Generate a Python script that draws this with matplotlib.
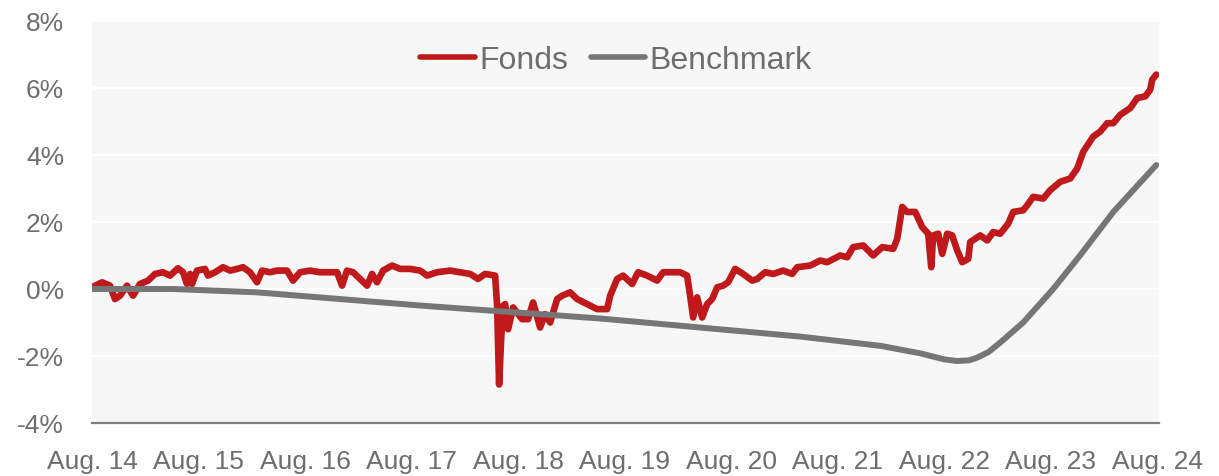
import numpy as np
import matplotlib
matplotlib.use('Agg')
import matplotlib.pyplot as plt
from matplotlib import font_manager

# months since Aug. 2014, performance in %
fonds_m = [0.0, 1.13, 2.03, 2.59, 3.16, 3.94, 4.62, 5.41, 6.31, 7.10, 8.0, 8.79, 9.69,
           10.25, 10.7, 11.04, 11.27, 11.83, 12.73, 13.07, 13.86, 14.76, 15.55, 16.34,
           17.01, 17.8, 18.59, 19.16, 20.06, 20.85, 21.97, 22.65, 23.44, 24.56, 25.69,
           26.82, 27.61, 28.17, 28.73, 29.41, 30.2, 30.99, 31.55, 32.11, 32.79, 33.8,
           34.71, 35.83, 36.96, 37.75, 38.87, 40.34, 41.47, 42.59, 43.49, 44.28, 45.41,
           45.64, 45.86, 46.09, 46.31, 46.54, 46.88, 47.44, 48.45, 49.13, 49.69, 50.48,
           51.04, 51.61, 52.4, 52.96, 53.86, 54.65, 55.78, 56.9, 58.03, 58.37, 59.16,
           59.83, 60.85, 61.52, 62.54, 63.66, 64.34, 65.35, 66.25, 67.04, 67.38, 67.72,
           68.17, 68.73, 69.3, 69.86, 70.43, 71.1, 71.66, 72.45, 73.35, 74.37, 74.93,
           75.83, 76.74, 77.86, 78.88, 79.44, 80.9, 82.03, 82.82, 84.28, 85.07, 85.75,
           86.88, 88.0, 89.02, 90.26, 90.71, 91.27, 91.83, 92.74, 93.52, 94.2, 94.54,
           94.76, 95.33, 95.78, 96.34, 96.9, 97.47, 98.03, 98.71, 98.93, 100.06, 100.85,
           101.52, 102.31, 103.21, 103.78, 104.9, 105.35, 106.03, 107.16, 107.95, 109.07,
           110.2, 110.99, 111.67, 112.79, 113.58, 114.37, 115.05, 115.83, 116.96, 117.75,
           118.65, 119.21, 119.44, 119.89]
fonds_v = [0.05, 0.2, 0.1, -0.3, -0.2, 0.1, -0.2, 0.15, 0.25, 0.45, 0.5, 0.4, 0.62,
           0.5, 0.15, 0.45, 0.15, 0.55, 0.6, 0.4, 0.5, 0.65, 0.55, 0.6,
           0.65, 0.5, 0.2, 0.55, 0.5, 0.55, 0.55, 0.25, 0.5, 0.55, 0.5,
           0.5, 0.5, 0.1, 0.55, 0.5, 0.3, 0.1, 0.45, 0.2, 0.55, 0.7,
           0.6, 0.6, 0.55, 0.4, 0.5, 0.55, 0.5, 0.45, 0.3, 0.45, 0.4,
           -0.5, -2.85, -1.5, -0.5, -0.45, -1.2, -0.55, -0.9, -0.9, -0.4, -1.15,
           -0.75, -1.0, -0.3, -0.2, -0.1, -0.3, -0.45, -0.6, -0.6, -0.2, 0.3,
           0.4, 0.15, 0.5, 0.4, 0.25, 0.5, 0.5, 0.5, 0.4, -0.2, -0.85,
           -0.25, -0.85, -0.45, -0.3, 0.05, 0.1, 0.2, 0.6, 0.45, 0.25, 0.3,
           0.5, 0.45, 0.55, 0.45, 0.65, 0.7, 0.85, 0.8, 1.0, 0.95, 1.25,
           1.3, 1.0, 1.25, 1.2, 1.5, 2.45, 2.3, 2.3, 1.85, 1.65, 0.65,
           1.6, 1.65, 1.05, 1.65, 1.6, 1.15, 0.8, 0.9, 1.4, 1.6, 1.45,
           1.7, 1.65, 1.95, 2.3, 2.35, 2.5, 2.75, 2.7, 2.95, 3.2,
           3.3, 3.6, 4.1, 4.55, 4.7, 4.95, 4.95, 5.2, 5.4, 5.7,
           5.75, 5.95, 6.25, 6.4]

bench_m = [0.0, 9.13, 18.59, 27.94, 37.3, 46.76, 57.24, 68.51, 79.78, 85.0, 88.9,
           93.3, 96.0, 97.47, 98.8, 99.72, 101.0, 102.31, 104.9, 108.28, 111.3,
           115.05, 119.89]
bench_v = [0.0, 0.0, -0.1, -0.3, -0.5, -0.68, -0.88, -1.15, -1.42, -1.58, -1.7,
           -1.92, -2.1, -2.15, -2.13, -2.05, -1.88, -1.6, -1.0, 0.0, 1.0,
           2.3, 3.7]

x_labels = ['Aug. 14', 'Aug. 15', 'Aug. 16', 'Aug. 17', 'Aug. 18', 'Aug. 19',
            'Aug. 20', 'Aug. 21', 'Aug. 22', 'Aug. 23', 'Aug. 24']

red = '#c0191c'
grey = '#767676'
txt = '#6e6e6e'

names = {f.name for f in font_manager.fontManager.ttflist}
narrow = 'Liberation Sans Narrow' if 'Liberation Sans Narrow' in names else 'Liberation Sans'
tick_size = 23 if narrow == 'Liberation Sans Narrow' else 19

fig = plt.figure(figsize=(12.19, 4.77), dpi=100)
ax = fig.add_axes([92 / 1219, 53 / 477, 1067 / 1219, 402 / 477])
ax.set_facecolor('#f7f7f7')

ax.plot(fonds_m, fonds_v, color=red, lw=4.8, solid_capstyle='round',
        solid_joinstyle='round', label='Fonds', zorder=3)
ax.plot(bench_m, bench_v, color=grey, lw=4.3, solid_capstyle='round',
        solid_joinstyle='round', label='Benchmark', zorder=4)

ax.set_xlim(0, 120.2)
ax.set_ylim(-4, 8)
ax.set_yticks(np.arange(-4, 9, 2))
ax.set_yticklabels([f'{v}%' for v in range(-4, 9, 2)])
ax.set_xticks(np.arange(0, 121, 12))
ax.set_xticklabels(x_labels)
ax.grid(axis='y', color='white', lw=1.6)
ax.set_axisbelow(True)
for s in ['top', 'right', 'left']:
    ax.spines[s].set_visible(False)
ax.spines['bottom'].set_color('#7f7f7f')
ax.spines['bottom'].set_linewidth(1.6)
ax.spines['bottom'].set_zorder(5)
ax.tick_params(length=0, colors=txt)
ax.tick_params(axis='y', pad=20)
ax.tick_params(axis='x', pad=19)
for lab in ax.get_xticklabels() + ax.get_yticklabels():
    lab.set_fontfamily(narrow)
    lab.set_fontsize(tick_size)

leg = ax.legend(loc='center', bbox_to_anchor=(616 / 1219, 1 - 61 / 477),
                bbox_transform=fig.transFigure, ncol=2, frameon=False,
                handlelength=1.7, handletextpad=0.15, columnspacing=0.7,
                prop={'family': 'Liberation Sans', 'size': 23})
for t in leg.get_texts():
    t.set_color(txt)
for h in leg.get_lines():
    h.set_linewidth(4.0)

fig.savefig('out.png', dpi=100)
